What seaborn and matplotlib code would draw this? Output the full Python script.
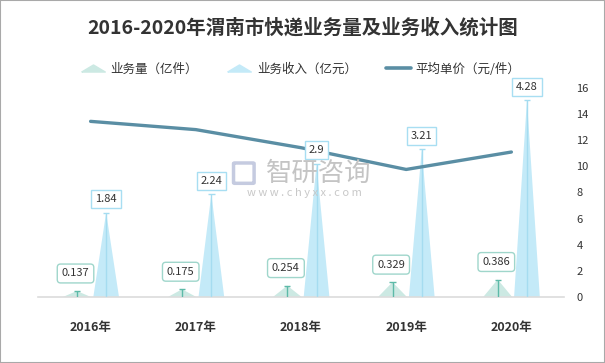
import numpy as np
import matplotlib
matplotlib.use("Agg")
import matplotlib.pyplot as plt
from matplotlib.lines import Line2D
from matplotlib.path import Path
from matplotlib.patches import Rectangle, FancyBboxPatch
import seaborn as sns

# ── data ───────────────────────────────────────────────────────────────────
YEARS = ["2016年", "2017年", "2018年", "2019年", "2020年"]
VOLUME = [0.137, 0.175, 0.254, 0.329, 0.386]      # 业务量（亿件）
REVENUE = [1.84, 2.24, 2.9, 3.21, 4.28]            # 业务收入（亿元）
UNIT_PRICE = [13.43, 12.80, 11.42, 9.76, 11.09]    # 平均单价（元/件）

TITLE = "2016-2020年渭南市快递业务量及业务收入统计图"
LEGEND_LABELS = ["业务量（亿件）", "业务收入（亿元）", "平均单价（元/件）"]
PRICE_TICKS = [0, 2, 4, 6, 8, 10, 12, 14, 16]

COLORS = {
    "vol_fill": "#cce9e3",
    "vol_line": "#5dbaa8",
    "vol_box": "#9fd6cb",
    "rev_fill": "#c4eaf8",
    "rev_line": "#a5dcf0",
    "rev_box": "#a8def2",
    "price": "#5a8ea4",
    "text": "#333333",
    "axis": "#dcdcdc",
}

sns.set_theme(style="white")
plt.rcParams["font.family"] = ["Noto Sans CJK SC", "DejaVu Sans"]

fig = plt.figure(figsize=(6.05, 3.63), dpi=100)
ax = fig.add_axes([0.0628, 0.181, 0.8694, 0.5774])
ax2 = ax.twinx()

x = np.arange(len(YEARS))
VOL_OFF, REV_OFF = -0.13, 0.148
VOL_W, REV_W = 0.28, 0.245
CAP = 0.03


def spike(axis, cx, h, w, fill, line):
    axis.fill([cx - w / 2, cx + w / 2, cx], [0, 0, h], color=fill, lw=0, zorder=2)
    axis.vlines(cx, 0, h, color=line, lw=1, zorder=3)
    axis.hlines(h, cx - CAP, cx + CAP, color=line, lw=1, zorder=3)


for i in range(len(YEARS)):
    spike(ax, x[i] + VOL_OFF, VOLUME[i], VOL_W, COLORS["vol_fill"], COLORS["vol_line"])
    spike(ax, x[i] + REV_OFF, REVENUE[i], REV_W, COLORS["rev_fill"], COLORS["rev_line"])

ax.set_xlim(-0.5, len(YEARS) - 0.5)
ax.set_ylim(0, 4.55)
ax.set_yticks([])
ax.set_xticks(x)
ax.set_xticklabels(YEARS, fontsize=9, fontweight="bold", color=COLORS["text"])
ax.tick_params(axis="x", length=0, pad=17)
for side in ["top", "left", "right"]:
    ax.spines[side].set_visible(False)
ax.spines["bottom"].set_color(COLORS["axis"])
ax.spines["bottom"].set_linewidth(1.2)

# average unit price on the right axis
sns.lineplot(x=x, y=UNIT_PRICE, ax=ax2, color=COLORS["price"], lw=2.4, zorder=4)
ax2.set_ylim(0, 16)
ax2.set_yticks(PRICE_TICKS)
ax2.set_yticklabels([str(t) for t in PRICE_TICKS], fontsize=8, color=COLORS["text"])
ax2.tick_params(axis="y", length=0, pad=9)
for side in ["top", "left", "right", "bottom"]:
    ax2.spines[side].set_visible(False)

# value labels (above the line)
for i in range(len(YEARS)):
    ax2.annotate(f"{VOLUME[i]:g}", xy=(x[i] + VOL_OFF, VOLUME[i]), xycoords=ax.transData,
                 xytext=(-1, 9), textcoords="offset points", ha="center", va="bottom",
                 fontsize=8, color=COLORS["text"], zorder=6,
                 bbox=dict(boxstyle="round,pad=0.4,rounding_size=0.3", fc="white",
                           ec=COLORS["vol_box"], lw=1))
    ax2.annotate(f"{REVENUE[i]:g}", xy=(x[i] + REV_OFF, REVENUE[i]), xycoords=ax.transData,
                 xytext=(0, 6), textcoords="offset points", ha="center", va="bottom",
                 fontsize=8, color=COLORS["text"], zorder=6,
                 bbox=dict(boxstyle="square,pad=0.35", fc="white",
                           ec=COLORS["rev_box"], lw=1))

# watermark
fig.text(0.527, 0.523, "智研咨询", fontsize=19, color="#c4c4c4", ha="center", va="center",
         zorder=0)
fig.patches.append(FancyBboxPatch((0.388, 0.497), 0.030, 0.052, transform=fig.transFigure,
                                  boxstyle="round,pad=0.002", fc="none", ec="#c5cbe0",
                                  lw=2.5, zorder=0))
fig.text(0.503, 0.468, "w w w . c h y x x . c o m", fontsize=8, color="#c8c8c8",
         ha="center", va="center", zorder=0)

# title and legend
fig.text(0.5, 0.925, TITLE, fontsize=14, fontweight="bold", color=COLORS["text"],
         ha="center", va="center")

tri = Path([(-1, -0.3), (1, -0.3), (0, 0.3), (-1, -0.3)])
handles = [
    Line2D([], [], marker=tri, markersize=17, ls="none", color=COLORS["vol_fill"]),
    Line2D([], [], marker=tri, markersize=17, ls="none", color=COLORS["rev_fill"]),
    Line2D([], [], color=COLORS["price"], lw=2.6),
]
leg = fig.legend(handles, LEGEND_LABELS, loc="center", bbox_to_anchor=(0.497, 0.81), ncol=3,
                 frameon=False, fontsize=9, handlelength=2.0, handletextpad=0.4,
                 columnspacing=2.3)
for t in leg.get_texts():
    t.set_color(COLORS["text"])

fig.patches.append(Rectangle((0, 0), 1, 1, transform=fig.transFigure, fill=False,
                             ec="#a9a9a9", lw=1.5))

fig.savefig("out.png", dpi=100)
